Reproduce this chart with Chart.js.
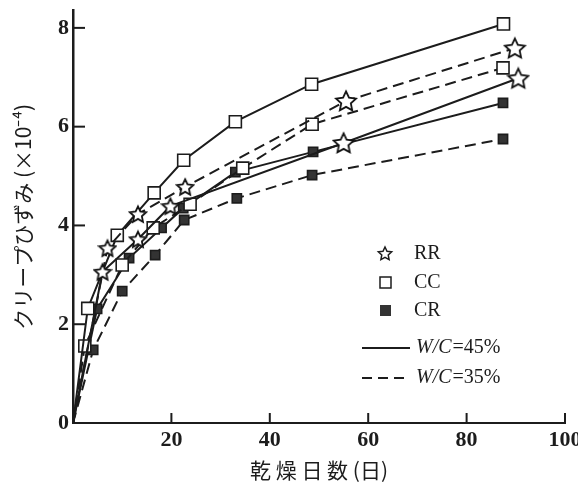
<!DOCTYPE html>
<html>
<head>
<meta charset="utf-8">
<title>クリープひずみ</title>
<script src="https://cdn.jsdelivr.net/npm/chart.js@4.4.0/dist/chart.umd.min.js"></script>
<style>
  html, body { margin: 0; padding: 0; background: #fff; }
</style>
</head>
<body>
<canvas id="creepChart" width="578" height="490"></canvas>
<script>
// axis ticks
const xTicks = [0, 20, 40, 60, 80, 100];
const yTicks = [0, 2, 4, 6, 8];

// drying days / creep strain (x10^-4)
const rr45Days = [0, 6, 13.2, 19.8, 55, 90.5];
const rr45Strain = [0, 3.06, 3.72, 4.39, 5.67, 6.98];
const rr35Days = [0, 7, 13.2, 22.8, 55.5, 89.8];
const rr35Strain = [0, 3.54, 4.23, 4.78, 6.52, 7.59];

const cc45Days = [0, 3, 9, 16.5, 22.5, 33, 48.5, 87.5];
const cc45Strain = [0, 2.32, 3.8, 4.66, 5.32, 6.1, 6.86, 8.08];
const cc35Days = [0, 2.4, 10, 16.3, 23.8, 34.5, 48.6, 87.4];
const cc35Strain = [0, 1.56, 3.2, 3.95, 4.43, 5.16, 6.05, 7.19];

const cr45Days = [0, 4.9, 11.4, 18, 22.4, 33, 48.8, 87.4];
const cr45Strain = [0, 2.31, 3.34, 3.95, 4.35, 5.08, 5.49, 6.48];
const cr35Days = [0, 4.1, 10, 16.7, 22.6, 33.3, 48.6, 87.4];
const cr35Strain = [0, 1.48, 2.67, 3.4, 4.11, 4.55, 5.02, 5.75];

const ink = "#1c1c1c";
const tickFont = { family: "'Liberation Serif', 'DejaVu Serif', serif", size: 22, weight: "bold" };

// five-point star marker
function starPath(ctx, cx, cy, ro, ri) {
  ctx.beginPath();
  for (let i = 0; i < 10; i++) {
    const r = i % 2 ? ri : ro;
    const a = -Math.PI / 2 + i * Math.PI / 5;
    const px = cx + r * Math.cos(a), py = cy + r * Math.sin(a);
    if (i === 0) ctx.moveTo(px, py); else ctx.lineTo(px, py);
  }
  ctx.closePath();
}

function makeStar(size) {
  const c = document.createElement("canvas");
  c.width = c.height = size;
  const g = c.getContext("2d");
  const ro = size / 2 - 1.5;
  starPath(g, size / 2, size / 2 + 0.8, ro, ro * 0.48);
  g.fillStyle = "#fff";
  g.fill();
  g.lineWidth = 1.8;
  g.strokeStyle = "#111";
  g.stroke();
  return c;
}
const smallStar = makeStar(20);
const bigStar = makeStar(24);

function toPoints(days, strain) {
  return days.map((d, i) => ({ x: d, y: strain[i] }));
}

function makeSeries(label, days, strain, dashed, marker) {
  const ds = {
    label: label,
    data: toPoints(days, strain),
    showLine: true,
    borderColor: ink,
    borderWidth: 2,
    borderDash: dashed ? [11, 6] : [],
    pointBorderColor: ink,
    pointBorderWidth: 1.6
  };
  if (marker === "star") {
    ds.pointStyle = c => (c.raw && c.raw.x > 50 ? bigStar : smallStar);
    ds.pointRadius = c => (c.dataIndex === 0 ? 0 : 9);
  } else if (marker === "open") {
    ds.pointStyle = "rect";
    ds.pointBackgroundColor = "#fff";
    ds.pointRadius = c => (c.dataIndex === 0 ? 0 : 8.5);
  } else {
    ds.pointStyle = "rect";
    ds.pointBackgroundColor = "#333";
    ds.pointRadius = c => (c.dataIndex === 0 ? 0 : 6.5);
  }
  return ds;
}

// inward tick marks on both axes
const innerTicks = {
  id: "innerTicks",
  afterDraw(chart) {
    const ctx = chart.ctx;
    const x = chart.scales.x, y = chart.scales.y;
    ctx.save();
    ctx.strokeStyle = ink;
    ctx.lineWidth = 2;
    xTicks.slice(1).forEach(v => {
      const px = x.getPixelForValue(v);
      ctx.beginPath();
      ctx.moveTo(px, y.bottom);
      ctx.lineTo(px, y.bottom - 10);
      ctx.stroke();
    });
    yTicks.slice(1).forEach(v => {
      const py = y.getPixelForValue(v);
      ctx.beginPath();
      ctx.moveTo(x.left, py);
      ctx.lineTo(x.left + 12, py);
      ctx.stroke();
    });
    ctx.restore();
  }
};

// legend box on the right
const figLegend = {
  id: "figLegend",
  afterDraw(chart) {
    const ctx = chart.ctx;
    ctx.save();
    ctx.fillStyle = ink;
    ctx.strokeStyle = ink;
    ctx.textBaseline = "middle";
    ctx.font = "20px 'Liberation Serif', serif";

    // markers
    starPath(ctx, 385, 254, 7, 3.4);
    ctx.fillStyle = "#fff"; ctx.fill();
    ctx.lineWidth = 1.5; ctx.stroke();
    ctx.fillStyle = "#fff";
    ctx.fillRect(380, 277, 11, 11);
    ctx.strokeRect(380, 277, 11, 11);
    ctx.fillStyle = "#333";
    ctx.fillRect(380, 305, 11, 11);

    ctx.fillStyle = ink;
    ctx.fillText("RR", 414, 254);
    ctx.fillText("CC", 414, 283);
    ctx.fillText("CR", 414, 311);

    // line samples
    ctx.lineWidth = 2;
    ctx.beginPath(); ctx.moveTo(362, 348); ctx.lineTo(410, 348); ctx.stroke();
    ctx.setLineDash([10, 6]);
    ctx.beginPath(); ctx.moveTo(362, 378); ctx.lineTo(410, 378); ctx.stroke();
    ctx.setLineDash([]);

    [["45%", 348], ["35%", 378]].forEach(([pct, ty]) => {
      let tx = 416;
      ctx.font = "italic 20px 'Liberation Serif', serif";
      ctx.fillText("W/C", tx, ty);
      tx += ctx.measureText("W/C").width + 1;
      ctx.font = "20px 'Liberation Serif', serif";
      ctx.fillText("=" + pct, tx, ty);
    });
    ctx.restore();
  }
};

const ctx = document.getElementById("creepChart").getContext("2d");
const creepChart = new Chart(ctx, {
  type: "scatter",
  data: {
    datasets: [
      makeSeries("RR 45%", rr45Days, rr45Strain, false, "star"),
      makeSeries("RR 35%", rr35Days, rr35Strain, true, "star"),
      makeSeries("CC 45%", cc45Days, cc45Strain, false, "open"),
      makeSeries("CC 35%", cc35Days, cc35Strain, true, "open"),
      makeSeries("CR 45%", cr45Days, cr45Strain, false, "filled"),
      makeSeries("CR 35%", cr35Days, cr35Strain, true, "filled")
    ]
  },
  options: {
    responsive: false,
    animation: false,
    events: [],
    layout: { padding: { top: 10, right: 13, bottom: 0, left: 0 } },
    plugins: {
      legend: { display: false },
      tooltip: { enabled: false }
    },
    scales: {
      x: {
        type: "linear",
        min: 0,
        max: 100,
        afterBuildTicks: s => { s.ticks = xTicks.map(v => ({ value: v })); },
        afterFit: s => { s.height = 67; s.paddingLeft = 0; s.paddingRight = 0; },
        grid: { display: false, drawTicks: false },
        border: { display: true, width: 2, color: ink },
        ticks: {
          color: ink,
          font: tickFont,
          padding: 4,
          maxRotation: 0,
          callback: v => (v === 0 ? "" : v)
        },
        title: {
          display: true,
          text: "乾 燥 日 数 (日)",
          color: ink,
          font: { family: "'Noto Sans CJK JP', sans-serif", size: 21 },
          padding: { top: 4, bottom: 7 }
        }
      },
      y: {
        type: "linear",
        min: 0,
        max: 8.35,
        afterBuildTicks: s => { s.ticks = yTicks.map(v => ({ value: v })); },
        afterFit: s => { s.width = 73; s.paddingTop = 0; s.paddingBottom = 0; },
        grid: { display: false, drawTicks: false },
        border: { display: true, width: 2.5, color: ink },
        ticks: { color: ink, font: tickFont, padding: 4 },
        title: {
          display: true,
          text: "クリープひずみ (×10⁻⁴)",
          color: ink,
          font: { family: "'Noto Sans CJK JP', sans-serif", size: 21 },
          padding: { top: 10, bottom: 0 }
        }
      }
    }
  },
  plugins: [innerTicks, figLegend]
});
</script>
</body>
</html>
